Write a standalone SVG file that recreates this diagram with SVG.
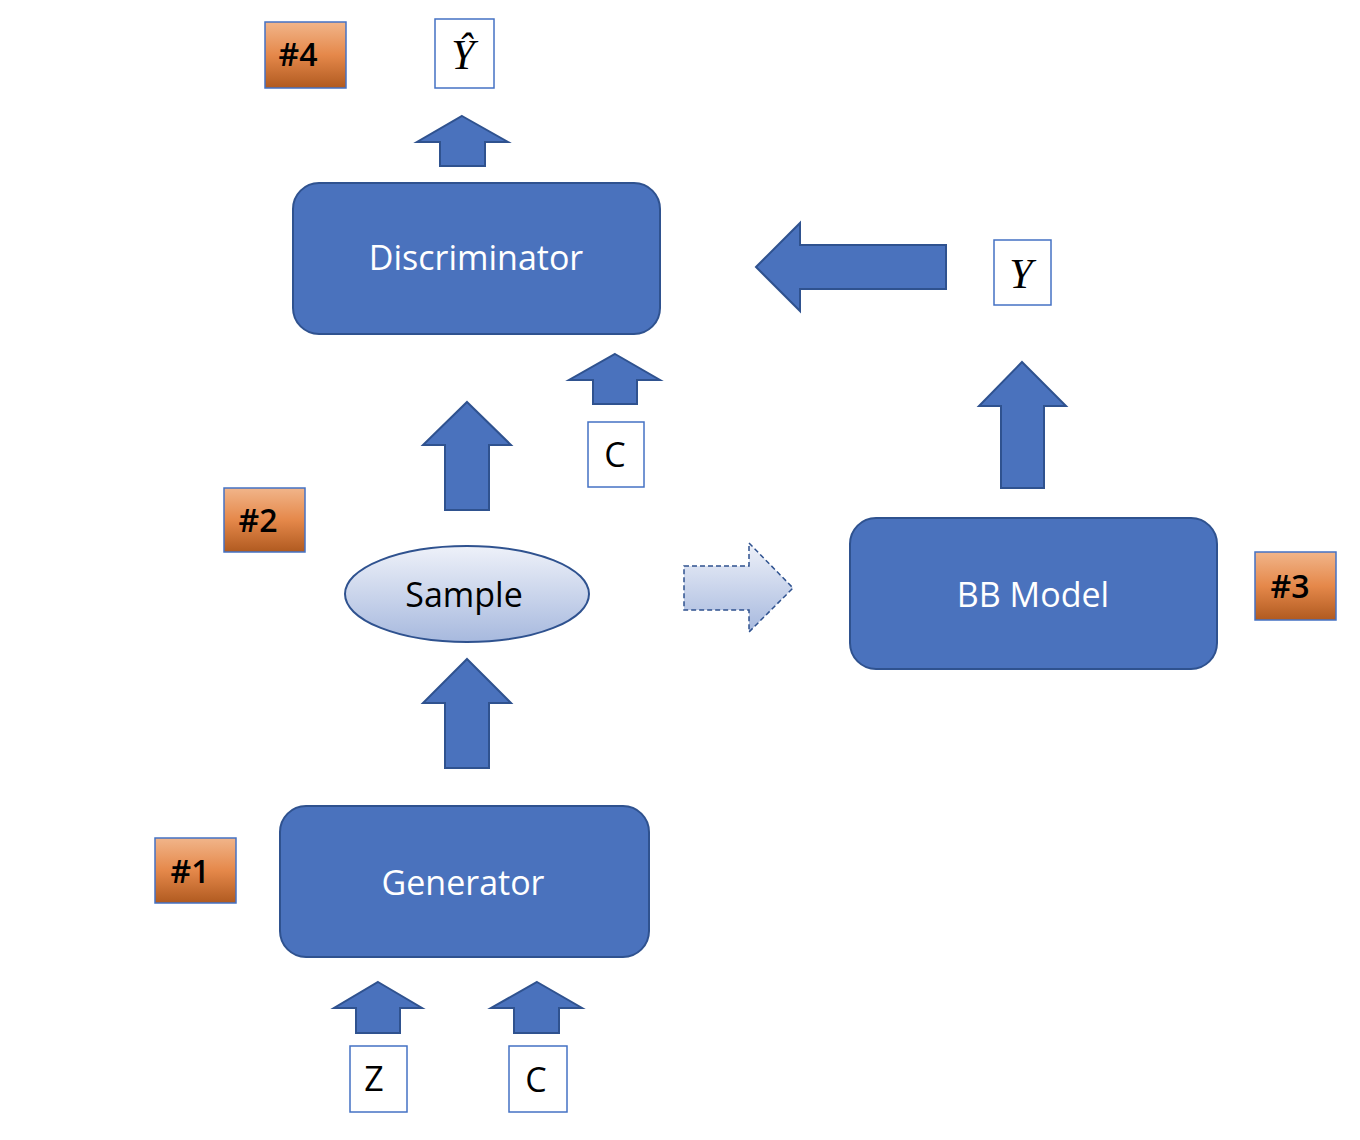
<svg xmlns="http://www.w3.org/2000/svg" width="1360" height="1140" viewBox="0 0 1360 1140">
<defs>
<linearGradient id="org" x1="0" y1="0" x2="0" y2="1">
<stop offset="0" stop-color="#f1b58a"/>
<stop offset="0.5" stop-color="#e5884a"/>
<stop offset="1" stop-color="#b05a20"/>
</linearGradient>
<linearGradient id="lb" x1="0" y1="0" x2="0" y2="1">
<stop offset="0" stop-color="#eef1f9"/>
<stop offset="1" stop-color="#a7b9de"/>
</linearGradient>
<style>
.blk{fill:#4a72bd;stroke:#2f528f;stroke-width:2}
.arr{fill:#4a72bd;stroke:#2f528f;stroke-width:2}
.tag{fill:url(#org);stroke:#4472c4;stroke-width:1.5}
.tb{fill:#ffffff;stroke:#4472c4;stroke-width:1.5}
.wt{font-family:"Open Sans","Noto Sans",sans-serif;font-size:34px;fill:#ffffff;text-anchor:middle}
.bt{font-family:"Open Sans","Noto Sans",sans-serif;font-size:34px;fill:#000000;text-anchor:middle}
.tt{font-family:"Open Sans","Noto Sans",sans-serif;font-size:32px;font-weight:600;fill:#000000;text-anchor:middle}
.mt{font-family:"Liberation Serif",serif;font-style:italic;font-size:42px;fill:#000000;text-anchor:middle}
</style>
</defs>
<g id="connectors">
<polygon class="arr" points="462,116 508,142 485,142 485,166 440,166 440,142 417,142"/>
<polygon class="arr" points="756,267 800,223 800,245 946,245 946,289 800,289 800,311"/>
<polygon class="arr" points="1022,362 1066,406 1044,406 1044,488 1001,488 1001,406 979,406"/>
<polygon class="arr" points="615,354 660,380 637,380 637,404 593,404 593,380 569,380"/>
<polygon class="arr" points="467,402 511,445 489,445 489,510 445,510 445,445 423,445"/>
<polygon fill="url(#lb)" stroke="#2f528f" stroke-width="1.5" stroke-dasharray="5,3" points="684,566 749,566 749,543 793,588 749,632 749,610 684,610"/>
<polygon class="arr" points="467,659 511,703 489,703 489,768 445,768 445,703 423,703"/>
<polygon class="arr" points="378,982 422,1008 400,1008 400,1033 356,1033 356,1008 334,1008"/>
<polygon class="arr" points="537,982 582,1008 559,1008 559,1033 514,1033 514,1008 491,1008"/>
</g>
<g id="tag4"><rect class="tag" x="265" y="22" width="81" height="66"/><text class="tt" x="298" y="66">#4</text></g>
<g id="yhat"><rect class="tb" x="435" y="19" width="59" height="69"/><text class="mt" x="463" y="69">Ŷ</text></g>
<g id="discriminator"><rect class="blk" x="293" y="183" width="367" height="151" rx="26"/><text class="wt" x="476" y="270">Discriminator</text></g>
<g id="y"><rect class="tb" x="994" y="240" width="57" height="65"/><text class="mt" x="1021" y="288">Y</text></g>
<g id="c1"><rect class="tb" x="588" y="422" width="56" height="65"/><text class="bt" x="615" y="467">C</text></g>
<g id="tag2"><rect class="tag" x="224" y="488" width="81" height="64"/><text class="tt" x="258" y="532">#2</text></g>
<g id="sample"><ellipse cx="467" cy="594" rx="122" ry="48" fill="url(#lb)" stroke="#2f528f" stroke-width="2"/><text class="bt" x="464" y="607">Sample</text></g>
<g id="bbmodel"><rect class="blk" x="850" y="518" width="367" height="151" rx="26"/><text class="wt" x="1033" y="607">BB Model</text></g>
<g id="tag3"><rect class="tag" x="1255" y="552" width="81" height="68"/><text class="tt" x="1290" y="598">#3</text></g>
<g id="generator"><rect class="blk" x="280" y="806" width="369" height="151" rx="26"/><text class="wt" x="463" y="895">Generator</text></g>
<g id="tag1"><rect class="tag" x="155" y="838" width="81" height="65"/><text class="tt" x="190" y="883">#1</text></g>
<g id="z"><rect class="tb" x="350" y="1046" width="57" height="66"/><text class="bt" x="374" y="1091">Z</text></g>
<g id="c2"><rect class="tb" x="509" y="1046" width="58" height="66"/><text class="bt" x="536" y="1092">C</text></g>
</svg>
